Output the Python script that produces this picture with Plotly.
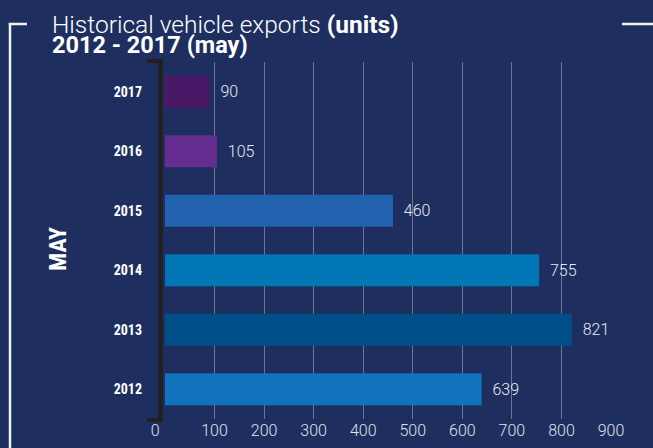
import plotly.graph_objects as go

# ---- data ----
years = [2012, 2013, 2014, 2015, 2016, 2017]
exports = [639, 821, 755, 460, 105, 90]
bar_colors = ["#1073bb", "#004f88", "#0076b4", "#2262ae", "#652d90", "#4a1866"]
x_ticks = [0, 100, 200, 300, 400, 500, 600, 700, 800, 900]

BG = "#1e2f5f"
W, H = 653, 448
ML, MR, MT, MB = 165, 42, 62, 29
PW, PH = W - ML - MR, H - MT - MB


def fx(px):
    return (px - ML) / PW


def fy(py):
    return (H - MB - py) / PH


LIGHT = "Roboto"
NARROW = "Liberation Sans Narrow, Roboto Condensed, Arial Narrow, Roboto"

fig = go.Figure()
fig.add_trace(go.Bar(
    x=exports, y=years, orientation="h",
    marker=dict(color=bar_colors, line=dict(width=0)),
    width=0.54,
    text=["\u00a0\u00a0" + str(v) for v in exports],
    textposition="outside", textangle=0, constraintext="none", cliponaxis=False,
    outsidetextfont=dict(family=LIGHT, size=16, color="#e8eaf2", weight=300),
    hoverinfo="skip",
))

title_text = (
    "<span style='font-size:24.5px'>Historical vehicle exports <b>(units)</b></span>"
    "<br><span style='font-size:23.5px'><b>2012 - 2017 (may)</b></span>"
)

annotations = [
    dict(x=fx(50), y=fy(34), xref="paper", yref="paper", xanchor="left", yanchor="middle",
         showarrow=False, text=title_text, align="left",
         font=dict(family=LIGHT, size=15.5, color="#ffffff", weight=300)),
    dict(x=fx(58), y=fy(249), xref="paper", yref="paper", xanchor="center", yanchor="middle",
         showarrow=False, text="<b>MAY</b>", textangle=-90,
         font=dict(family=NARROW, size=24, color="#ffffff")),
]

shapes = [
    # white frame bracket
    dict(type="line", xref="paper", yref="paper", x0=fx(10), x1=fx(10), y0=fy(23), y1=fy(452),
         line=dict(color="#f2f2f2", width=2.5)),
    dict(type="line", xref="paper", yref="paper", x0=fx(8.8), x1=fx(27), y0=fy(24), y1=fy(24),
         line=dict(color="#f2f2f2", width=2.5)),
    dict(type="line", xref="paper", yref="paper", x0=fx(622), x1=fx(655), y0=fy(24), y1=fy(24),
         line=dict(color="#f2f2f2", width=2.5)),
    # dark axis bracket
    dict(type="line", xref="paper", yref="paper", x0=fx(160.5), x1=fx(160.5), y0=fy(59), y1=fy(422),
         line=dict(color="#231f20", width=4.5)),
    dict(type="line", xref="paper", yref="paper", x0=fx(147), x1=fx(162), y0=fy(61), y1=fy(61),
         line=dict(color="#231f20", width=4)),
    dict(type="line", xref="paper", yref="paper", x0=fx(147), x1=fx(162), y0=fy(420), y1=fy(420),
         line=dict(color="#231f20", width=4)),
]

tick_text = [str(t) for t in x_ticks]
tick_text[0] = tick_text[0] + "\u00a0" * 5  # zero label sits left of its gridline

fig.update_layout(
    width=W, height=H,
    margin=dict(l=ML, r=MR, t=MT, b=MB, pad=0),
    paper_bgcolor=BG, plot_bgcolor=BG,
    showlegend=False,
    xaxis=dict(
        range=[0, 900], tickvals=x_ticks, ticktext=tick_text,
        showgrid=True, gridcolor="#6f7692", gridwidth=1, zeroline=False,
        showline=False, ticks="", ticklabelstandoff=0,
        tickfont=dict(family=LIGHT, size=16, color="#dfe2ec", weight=300),
        fixedrange=True, automargin=False,
    ),
    yaxis=dict(
        type="linear", range=[min(years) - 0.5, max(years) + 0.5],
        tickvals=years, ticktext=[str(y) for y in years],
        showgrid=False, zeroline=False, showline=False, ticks="",
        ticklabelstandoff=22,
        tickfont=dict(family=NARROW, size=14, color="#ffffff", weight="bold"),
        fixedrange=True, automargin=False,
    ),
    annotations=annotations,
    shapes=shapes,
)

fig.write_html(
    "out.html",
    config={"displayModeBar": False},
    post_script="document.body.style.margin='0';document.body.style.overflow='hidden';",
)
